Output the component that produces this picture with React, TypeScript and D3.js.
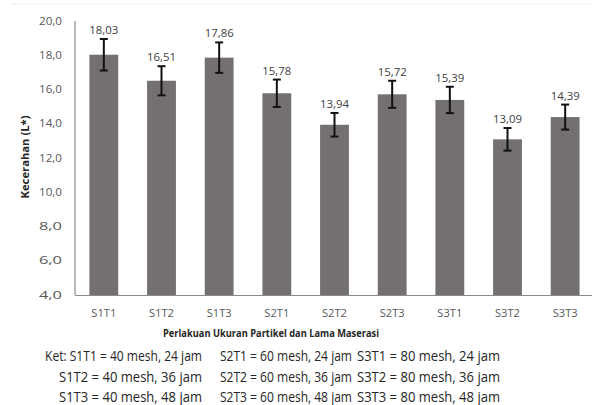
import React from "react";
import * as d3 from "d3";

const categories = ["S1T1", "S1T2", "S1T3", "S2T1", "S2T2", "S2T3", "S3T1", "S3T2", "S3T3"];
const values = [18.03, 16.51, 17.86, 15.78, 13.94, 15.72, 15.39, 13.09, 14.39];
const errors = [0.92, 0.85, 0.89, 0.8, 0.69, 0.79, 0.77, 0.66, 0.73];
const valueLabels = ["18,03", "16,51", "17,86", "15,78", "13,94", "15,72", "15,39", "13,09", "14,39"];
const yTicks = [4, 6, 8, 10, 12, 14, 16, 18, 20];
const legendCol1 = ["Ket: S1T1 = 40 mesh, 24 jam", "S1T2 = 40 mesh, 36 jam", "S1T3 = 40 mesh, 48 jam"];
const legendCol2 = ["S2T1 = 60 mesh, 24 jam", "S2T2 = 60 mesh, 36 jam", "S2T3 = 60 mesh, 48 jam"];
const legendCol3 = ["S3T1 = 80 mesh, 24 jam", "S3T2 = 80 mesh, 36 jam", "S3T3 = 80 mesh, 48 jam"];
const yTitle = "Kecerahan (L*)";
const xTitle = "Perlakuan Ukuran Partikel dan Lama Maserasi";

const W = 592;
const H = 405;
const FONT = "'Open Sans', sans-serif";
const SX = 0.78;

function LegendText({ x, y, text, width, anchor }: { x: number; y: number; text: string; width: number; anchor?: string }) {
  return (
    <g transform={`translate(${x},${y}) scale(${SX},1)`}>
      <text x={0} y={0} textAnchor={anchor || "start"} fontSize={15} fill="#262626"
        textLength={width / SX} lengthAdjust="spacingAndGlyphs">
        {text}
      </text>
    </g>
  );
}

export default function App() {
  const x = d3.scaleBand<string>().domain(categories).range([75, 594]).paddingInner(0.5).paddingOuter(0.25);
  const y = d3.scaleLinear().domain([4, 20]).range([295, 21]);
  const fmt = (v: number) => v.toFixed(1).replace(".", ",");
  const bw = x.bandwidth();
  const capW = 4;
  const legendBase = [360.5, 381.5, 402];

  return (
    <svg width={W} height={H} style={{ position: "absolute", left: 0, top: 0, background: "#fff" }} fontFamily={FONT}>
      <rect x={0} y={0} width={W} height={H} fill="#fff" />
      <line x1={10} x2={W} y1={4} y2={4} stroke="#eeeeee" strokeWidth={1} />
      {/* y ticks */}
      {yTicks.map((t) => (
        <text key={t} x={62} y={y(t)} dy="0.35em" textAnchor="end" fontSize={10.5} fill="#595959"
          textLength={23} lengthAdjust="spacingAndGlyphs">
          {fmt(t)}
        </text>
      ))}
      {/* bars */}
      {categories.map((c, i) => (
        <rect key={c} x={x(c)} y={y(values[i])} width={bw} height={y(4) - y(values[i])} fill="#757070" />
      ))}
      {/* error bars */}
      {categories.map((c, i) => {
        const cx = (x(c) as number) + bw / 2;
        const top = y(values[i] + errors[i]);
        const bot = y(values[i] - errors[i]);
        return (
          <g key={c} stroke="#111" strokeWidth={2}>
            <line x1={cx} x2={cx} y1={top} y2={bot} />
            <line x1={cx - capW} x2={cx + capW} y1={top} y2={top} />
            <line x1={cx - capW} x2={cx + capW} y1={bot} y2={bot} />
          </g>
        );
      })}
      {/* value labels */}
      {categories.map((c, i) => (
        <text key={c} x={(x(c) as number) + bw / 2} y={y(values[i] + errors[i]) - 5} textAnchor="middle"
          fontSize={10.5} fill="#404040" textLength={29} lengthAdjust="spacingAndGlyphs">
          {valueLabels[i]}
        </text>
      ))}
      {/* axes */}
      <line x1={75} x2={75} y1={21} y2={295} stroke="#8a8a8a" strokeWidth={1.2} />
      <line x1={75} x2={W} y1={295.5} y2={295.5} stroke="#8a8a8a" strokeWidth={1.2} />
      {/* x tick labels */}
      {categories.map((c) => (
        <text key={c} x={(x(c) as number) + bw / 2} y={313} dy="0.35em" textAnchor="middle" fontSize={10.5}
          fill="#595959" textLength={25} lengthAdjust="spacingAndGlyphs">
          {c}
        </text>
      ))}
      {/* axis titles */}
      <text x={271} y={333} dy="0.35em" textAnchor="middle" fontSize={10} fontWeight="bold" fill="#262626"
        textLength={216} lengthAdjust="spacingAndGlyphs">
        {xTitle}
      </text>
      <text transform="translate(25,157) rotate(-90)" textAnchor="middle" dy="0.35em" fontSize={10}
        fontWeight="bold" fill="#262626" textLength={83} lengthAdjust="spacingAndGlyphs">
        {yTitle}
      </text>
      {/* legend */}
      {legendCol1.map((t, i) => (
        <LegendText key={t} x={202} y={legendBase[i]} text={t} width={i === 0 ? 157 : 143} anchor="end" />
      ))}
      {legendCol2.map((t, i) => (
        <LegendText key={t} x={220} y={legendBase[i]} text={t} width={132} />
      ))}
      {legendCol3.map((t, i) => (
        <LegendText key={t} x={357} y={legendBase[i]} text={t} width={143} />
      ))}
    </svg>
  );
}
